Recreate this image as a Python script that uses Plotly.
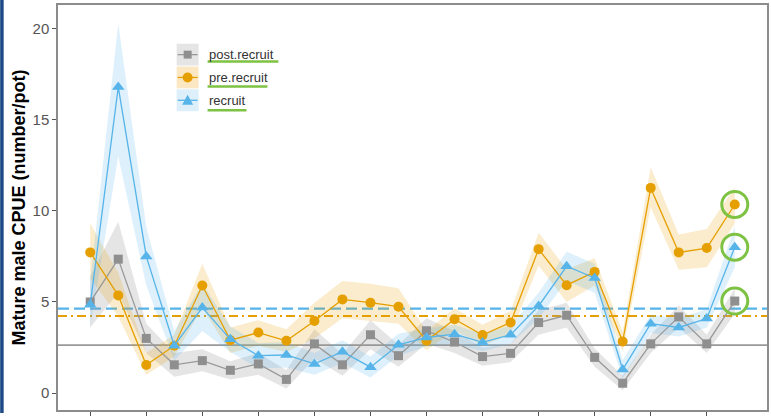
import plotly.graph_objects as go

# ---------------- data ----------------
idx = list(range(1, 25))  # survey index (tick labels cut off in reference)
tick_idx = [1, 3, 5, 7, 9, 11, 13, 15, 17, 19, 21, 23]

post_recruit = [5.0, 7.35, 3.0, 1.55, 1.78, 1.25, 1.6, 0.75, 2.7, 1.55, 3.2, 2.05,
                3.42, 2.8, 2.0, 2.18, 3.87, 4.27, 1.96, 0.54, 2.7, 4.18, 2.7, 5.05]
post_lo = [3.6, 5.5, 2.2, 0.9, 1.2, 0.75, 1.0, 0.25, 1.9, 0.95, 2.4, 1.45,
           2.7, 2.2, 1.5, 1.7, 3.2, 3.6, 1.45, 0.15, 2.2, 3.6, 2.2, 4.35]
post_hi = [6.4, 9.4, 3.8, 2.2, 2.4, 1.75, 2.2, 1.25, 3.5, 2.15, 4.0, 2.65,
           4.1, 3.4, 2.5, 2.7, 4.55, 4.95, 2.45, 0.95, 3.2, 4.8, 3.2, 5.75]

pre_recruit = [7.72, 5.36, 1.54, 2.6, 5.9, 2.9, 3.32, 2.87, 3.96, 5.14, 4.96, 4.74,
               2.87, 4.05, 3.18, 3.87, 7.9, 5.92, 6.65, 2.83, 11.26, 7.72, 7.96, 10.35]
pre_lo = [6.3, 4.2, 1.0, 2.0, 4.7, 2.2, 2.6, 2.25, 3.0, 4.1, 3.95, 3.8,
          2.35, 3.45, 2.6, 3.25, 7.0, 5.0, 5.9, 2.3, 10.2, 6.77, 6.9, 9.3]
pre_hi = [9.3, 6.6, 2.2, 3.2, 7.1, 3.6, 4.0, 3.5, 4.95, 6.15, 6.0, 5.75,
          3.4, 4.65, 3.75, 4.5, 8.8, 6.8, 7.4, 3.35, 12.4, 8.7, 9.0, 11.3]

recruit = [4.85, 16.8, 7.5, 2.6, 4.69, 2.95, 2.05, 2.09, 1.6, 2.27, 1.42, 2.65,
           3.05, 3.23, 2.78, 3.2, 4.78, 6.96, 6.32, 1.29, 3.81, 3.6, 4.09, 8.01]
rec_lo = [3.6, 13.0, 5.9, 1.8, 3.4, 2.25, 1.35, 1.4, 1.0, 1.65, 0.85, 2.05,
          2.55, 2.7, 2.3, 2.7, 4.1, 6.15, 5.5, 0.8, 3.3, 3.1, 3.6, 6.9]
rec_hi = [6.1, 20.3, 9.1, 3.4, 6.0, 3.65, 2.75, 2.8, 2.2, 2.9, 2.0, 3.25,
          3.55, 3.75, 3.25, 3.7, 5.5, 7.75, 7.1, 1.8, 4.3, 4.1, 4.6, 9.15]

mean_post = 2.63
mean_pre = 4.23
mean_rec = 4.63

series_names = ["post.recruit", "pre.recruit", "recruit"]

# ---------------- style ----------------
GRAY = "#999999"
GRAY_MK = "#8f8f8f"
ORANGE = "#E69F00"
BLUE = "#56B4E9"
GREEN = "#7dc242"
FONT = "Liberation Sans, Arial, sans-serif"

W, H = 771, 416
ML, MR, MT, MB = 58, 2, 5, 3
PW, PH = W - ML - MR, H - MT - MB


def px_x(px):
    return (px - ML) / PW


def px_y(py):
    return (H - MB - py) / PH


fig = go.Figure()

ribbons = [
    (post_lo, post_hi, "rgba(153,153,153,0.25)"),
    (pre_lo, pre_hi, "rgba(230,159,0,0.2)"),
    (rec_lo, rec_hi, "rgba(86,180,233,0.2)"),
]
for lo, hi, fc in ribbons:
    fig.add_trace(go.Scatter(
        x=idx + idx[::-1], y=hi + lo[::-1], fill="toself", fillcolor=fc,
        line=dict(width=0), mode="lines", hoverinfo="skip", showlegend=False))

lines = [
    (post_recruit, GRAY, GRAY_MK, "square", 9),
    (pre_recruit, ORANGE, ORANGE, "circle", 10),
    (recruit, BLUE, BLUE, "triangle-up", 11),
]
for (vals, lc, mc, sym, sz), nm in zip(lines, series_names):
    fig.add_trace(go.Scatter(
        x=idx, y=vals, mode="lines+markers", name=nm,
        line=dict(color=lc, width=1.3),
        marker=dict(color=mc, symbol=sym, size=sz, line=dict(width=0)),
        showlegend=False))

# green highlight rings around the last point of each series
fig.add_trace(go.Scatter(
    x=[idx[-1]] * 3, y=[post_recruit[-1], pre_recruit[-1], recruit[-1]],
    mode="markers", hoverinfo="skip", showlegend=False,
    marker=dict(symbol="circle-open", size=26, color=GREEN, line=dict(width=3, color=GREEN))))

shapes = []
annotations = []

# mean reference lines
shapes.append(dict(type="line", xref="paper", yref="y", x0=0, x1=1, y0=mean_post, y1=mean_post,
                   line=dict(color=GRAY, width=1.6), layer="below"))
shapes.append(dict(type="line", xref="paper", yref="y", x0=0, x1=1, y0=mean_pre, y1=mean_pre,
                   line=dict(color=ORANGE, width=2, dash="9px,4px,2px,4px"), layer="below"))
shapes.append(dict(type="line", xref="paper", yref="y", x0=0, x1=1, y0=mean_rec, y1=mean_rec,
                   line=dict(color=BLUE, width=2.2, dash="11px,5px"), layer="below"))

# manual legend
leg_rows = [55, 78, 101]
key_fill = ["#e5e5e5", "#fbe8c2", "#dceffa"]
under_end = [279, 268, 247]
under_y = [62, 87, 111]
for i, (nm, (vals, lc, mc, sym, sz)) in enumerate(zip(series_names, lines)):
    cy = leg_rows[i]
    shapes.append(dict(type="rect", xref="paper", yref="paper",
                       x0=px_x(177), x1=px_x(199), y0=px_y(cy + 11), y1=px_y(cy - 11),
                       fillcolor=key_fill[i], line=dict(width=0), layer="above"))
    shapes.append(dict(type="line", xref="paper", yref="paper",
                       x0=px_x(178), x1=px_x(198), y0=px_y(cy), y1=px_y(cy),
                       line=dict(color=lc, width=1.3), layer="above"))
    if sym == "square":
        shapes.append(dict(type="rect", xref="paper", yref="paper",
                           x0=px_x(184), x1=px_x(192), y0=px_y(cy + 4), y1=px_y(cy - 4),
                           fillcolor=mc, line=dict(width=0), layer="above"))
    elif sym == "circle":
        shapes.append(dict(type="circle", xref="paper", yref="paper",
                           x0=px_x(183), x1=px_x(193), y0=px_y(cy + 5), y1=px_y(cy - 5),
                           fillcolor=mc, line=dict(width=0), layer="above"))
    else:
        path = "M {} {} L {} {} L {} {} Z".format(
            px_x(182.5), px_y(cy + 4.5), px_x(193.5), px_y(cy + 4.5), px_x(188), px_y(cy - 5.5))
        shapes.append(dict(type="path", xref="paper", yref="paper", path=path,
                           fillcolor=mc, line=dict(width=0), layer="above"))
    annotations.append(dict(text=nm, xref="paper", yref="paper", x=px_x(207), y=px_y(cy),
                            xanchor="left", yanchor="middle", showarrow=False,
                            font=dict(family=FONT, size=13, color="#333333")))
    shapes.append(dict(type="line", xref="paper", yref="paper",
                       x0=px_x(208), x1=px_x(under_end[i]), y0=px_y(under_y[i]),
                       y1=px_y(under_y[i]), line=dict(color=GREEN, width=2.5), layer="above"))

# slide edge strip on the far left
shapes.append(dict(type="rect", xref="paper", yref="paper", x0=px_x(0), x1=px_x(3.5),
                   y0=px_y(H), y1=px_y(0), fillcolor="#1d4a86", line=dict(width=0)))

# y-axis title
annotations.append(dict(text="<b>Mature male CPUE (number/pot)</b>", xref="paper", yref="paper",
                        x=px_x(18), y=px_y(209), textangle=-90, showarrow=False,
                        xanchor="center", yanchor="middle",
                        font=dict(family=FONT, size=18, color="#000000")))

fig.update_layout(
    width=W, height=H, autosize=False,
    margin=dict(l=ML, r=MR, t=MT, b=MB, pad=0),
    paper_bgcolor="white", plot_bgcolor="white",
    showlegend=False, shapes=shapes, annotations=annotations,
    font=dict(family=FONT),
)
fig.update_xaxes(range=[idx[0] - 1.15, idx[-1] + 1.15], tickvals=tick_idx,
                 showticklabels=False, ticks="outside", ticklen=4, tickcolor="#555555",
                 showgrid=False, zeroline=False, showline=True, mirror=True,
                 linecolor="#8c8c8c", linewidth=1.5)
fig.update_yaxes(range=[-0.93, 21.3], tickvals=[0, 5, 10, 15, 20],
                 ticks="outside", ticklen=4, tickcolor="#555555",
                 tickfont=dict(family=FONT, size=15, color="#555555"),
                 showgrid=False, zeroline=False, showline=True, mirror=True,
                 linecolor="#8c8c8c", linewidth=1.5)

fig.write_html("out.html", config={"displayModeBar": False},
               post_script="document.body.style.margin='0';")
